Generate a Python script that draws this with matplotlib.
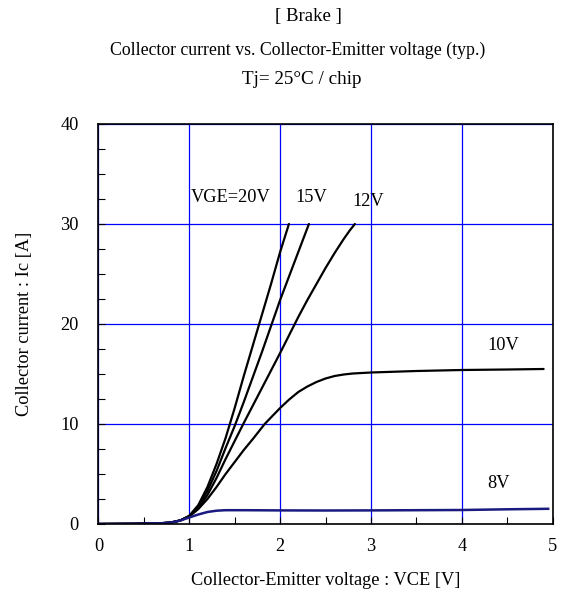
import matplotlib
matplotlib.use("Agg")
import matplotlib.pyplot as plt
from matplotlib.ticker import MultipleLocator

plt.rcParams['font.family'] = ['Liberation Serif', 'DejaVu Serif']

# ---- data ----
v20 = [0.0, 0.4, 0.7, 0.8, 0.9, 1.0, 1.1, 1.2, 1.3, 1.4, 1.5, 1.6, 1.75, 1.9, 2.0, 2.097]
i20 = [0.0, 0.02, 0.08, 0.15, 0.35, 0.8, 1.9, 3.7, 6.0, 8.6, 11.6, 14.8, 19.4, 24.0, 27.2, 30.0]

v15 = [0.0, 0.4, 0.7, 0.8, 0.9, 1.0, 1.1, 1.2, 1.3, 1.4, 1.5, 1.6, 1.8, 2.0, 2.2, 2.317]
i15 = [0.0, 0.02, 0.08, 0.15, 0.35, 0.8, 1.8, 3.3, 5.3, 7.6, 9.8, 12.2, 17.2, 22.4, 27.2, 30.0]

v12 = [0.0, 0.4, 0.7, 0.8, 0.9, 1.0, 1.1, 1.2, 1.3, 1.4, 1.5, 1.6, 1.8, 2.0, 2.2, 2.3, 2.4, 2.5, 2.6, 2.7, 2.77, 2.823]
i12 = [0.0, 0.02, 0.08, 0.15, 0.35, 0.78, 1.6, 2.9, 4.6, 6.5, 8.3, 10.1, 13.6, 17.1, 20.7, 22.4, 24.0, 25.6, 27.1, 28.5, 29.4, 30.0]

v10 = [0.0, 0.4, 0.7, 0.8, 0.9, 1.0, 1.1, 1.2, 1.3, 1.4, 1.5, 1.6, 1.7, 1.83, 2.0, 2.1, 2.2, 2.3, 2.4, 2.5, 2.6, 2.7, 2.8, 2.9, 3.0, 3.5, 4.0, 4.5, 4.9]
i10 = [0.0, 0.02, 0.08, 0.15, 0.35, 0.75, 1.5, 2.5, 3.7, 5.0, 6.2, 7.4, 8.5, 10.0, 11.6, 12.45, 13.2, 13.75, 14.2, 14.55, 14.8, 14.95, 15.05, 15.1, 15.15, 15.3, 15.4, 15.45, 15.5]

v8 = [0.0, 0.4, 0.7, 0.8, 0.9, 1.0, 1.1, 1.2, 1.3, 1.4, 1.6, 2.0, 2.5, 3.0, 3.5, 4.0, 4.5, 4.95]
i8 = [0.0, 0.02, 0.08, 0.15, 0.35, 0.65, 0.95, 1.2, 1.33, 1.38, 1.38, 1.36, 1.35, 1.36, 1.38, 1.4, 1.47, 1.52]

labels = ["VGE=20V", "15V", "12V", "10V", "8V"]
label_pos = [(1.02, 32.6), (2.17, 32.6), (2.80, 32.2), (4.285, 17.8), (4.275, 4.1)]

xticks = [0, 1, 2, 3, 4, 5]
yticks = [0, 10, 20, 30, 40]

FS = 13.2

# ---- figure ----
fig = plt.figure(figsize=(5.65, 5.99), dpi=100)
ax = fig.add_axes([98.4/565, 1-524/599, (552.7-98.4)/565, (524-124)/599])

ax.set_xlim(0, 5)
ax.set_ylim(0, 40)
ax.set_xticks(xticks)
ax.set_yticks(yticks)
ax.xaxis.set_minor_locator(MultipleLocator(0.5))
ax.yaxis.set_minor_locator(MultipleLocator(2.5))
ax.grid(True, which='major', color='#0000ff', linewidth=0.9)
ax.set_axisbelow(True)
ax.tick_params(which='both', direction='in', top=False, right=False,
               labelsize=FS, colors='black')
ax.tick_params(which='major', length=5, width=0.8)
ax.tick_params(which='minor', length=5, width=0.8)
ax.tick_params(axis='y', which='major', pad=14)
ax.tick_params(axis='x', which='major', pad=10)
for s in ax.spines.values():
    s.set_linewidth(1.2)
    s.set_color('black')

for v, i in [(v20, i20), (v15, i15), (v12, i12), (v10, i10)]:
    ax.plot(v, i, color='black', linewidth=1.6, solid_capstyle='round',
            solid_joinstyle='round')
ax.plot(v8, i8, color='#1a1a80', linewidth=1.8, solid_joinstyle='round')

for lab, (x, y) in zip(labels, label_pos):
    ax.text(x, y, lab, fontsize=FS, ha='left', va='center', color='black')

ax.set_xlabel("Collector-Emitter voltage : VCE [V]", fontsize=FS, labelpad=12)
ax.set_ylabel("Collector current : Ic [A]", fontsize=FS, labelpad=20)

fig.text(308/565, 1-17/599, "[ Brake ]", ha='center', va='center', fontsize=13.5)
fig.text(298/565, 1-50/599, "Collector current vs. Collector-Emitter voltage (typ.)",
         ha='center', va='center', fontsize=12.8)
fig.text(302/565, 1-79/599, "Tj= 25°C / chip", ha='center', va='center', fontsize=13.8)

fig.savefig("out.png", dpi=100)
